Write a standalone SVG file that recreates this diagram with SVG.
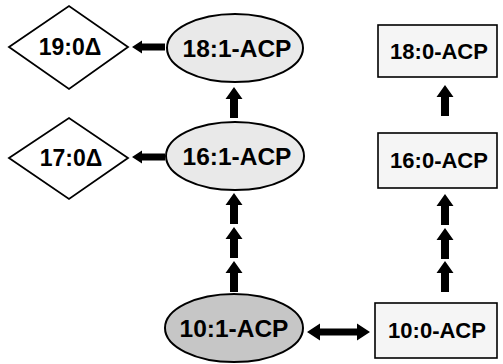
<svg xmlns="http://www.w3.org/2000/svg" width="503" height="364" viewBox="0 0 503 364">
  <style>
    .lbl { font-family: "Liberation Sans", Arial, sans-serif; font-weight: bold; fill: #000; text-anchor: middle; }
    .big { font-size: 24.5px; }
    .mid { font-size: 22px; }
    .dtx { font-size: 23px; }
    .ell { fill: #e9e9e9; stroke: #000; stroke-width: 2; }
    .ell-dark { fill: #c6c6c6; stroke: #000; stroke-width: 2; }
    .box { fill: #f5f5f5; stroke: #000; stroke-width: 1.6; }
    .dia { fill: #fff; stroke: #000; stroke-width: 1.8; stroke-linejoin: miter; }
    .arr { fill: #000; }
  </style>
  <defs>
    <!-- block arrow pointing up, tip at origin -->
    <path id="up" d="M0,0 L8.5,12 L4,12 L4,31 L-4,31 L-4,12 L-8.5,12 Z"/>
    <!-- block arrow pointing left, tip at origin -->
    <path id="left" d="M0,0 L10,-6.5 L10,-3.5 L33,-3.5 L33,3.5 L10,3.5 L10,6.5 Z"/>
  </defs>

  <rect width="503" height="364" fill="#fff"/>

  <g id="connectors" class="arr">
    <use href="#up" x="234" y="87"/>
    <use href="#up" x="234" y="193"/>
    <use href="#up" x="234" y="227"/>
    <use href="#up" x="234" y="261"/>
    <use href="#up" x="445" y="85"/>
    <use href="#up" x="445" y="194"/>
    <use href="#up" x="445" y="228"/>
    <use href="#up" x="445" y="261"/>
    <use href="#left" x="132" y="47"/>
    <use href="#left" x="132" y="157"/>
    <path d="M307,332 L320,323.5 L320,328.5 L357,328.5 L357,323.5 L370,332 L357,340.5 L357,335.5 L320,335.5 L320,340.5 Z"/>
  </g>

  <g id="n19-0">
    <polygon class="dia" points="9,47 69,6 128,47 69,89"/>
    <text class="lbl dtx" x="70" y="55">19:0Δ</text>
  </g>
  <g id="n17-0">
    <polygon class="dia" points="9,158 69,118 128,158 69,199"/>
    <text class="lbl dtx" x="71" y="166">17:0Δ</text>
  </g>
  <g id="n18-1">
    <ellipse class="ell" cx="235" cy="48" rx="68" ry="34"/>
    <text class="lbl big" x="237" y="57">18:1-ACP</text>
  </g>
  <g id="n16-1">
    <ellipse class="ell" cx="235" cy="156" rx="69" ry="34"/>
    <text class="lbl big" x="237" y="165">16:1-ACP</text>
  </g>
  <g id="n10-1">
    <ellipse class="ell-dark" cx="234" cy="328" rx="69" ry="34"/>
    <text class="lbl big" x="234" y="337">10:1-ACP</text>
  </g>
  <g id="n18-0">
    <rect class="box" x="378" y="25" width="119" height="52"/>
    <text class="lbl mid" x="439" y="59">18:0-ACP</text>
  </g>
  <g id="n16-0">
    <rect class="box" x="378" y="133" width="119" height="55"/>
    <text class="lbl mid" x="439" y="168">16:0-ACP</text>
  </g>
  <g id="n10-0">
    <rect class="box" x="375" y="303" width="122" height="55"/>
    <text class="lbl mid" x="437" y="338">10:0-ACP</text>
  </g>
</svg>
